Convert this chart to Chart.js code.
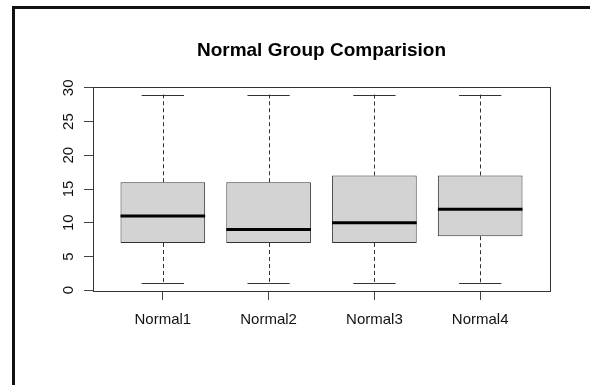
<!DOCTYPE html>
<html>
<head>
<meta charset="utf-8">
<script src="https://cdn.jsdelivr.net/npm/chart.js@4"></script>
<style>
  html, body { margin: 0; padding: 0; background: #fff; }
  #wrap { width: 590px; height: 385px; position: relative; }
</style>
</head>
<body>
<div id="wrap"><canvas id="c" width="590" height="385"></canvas></div>
<script>
// Five-number summaries for each group
const categories = ['Normal1', 'Normal2', 'Normal3', 'Normal4'];
const mins    = [1, 1, 1, 1];
const q1s     = [7, 7, 7, 8];
const medians = [11, 9, 10, 12];
const q3s     = [16, 16, 17, 17];
const maxs    = [29, 29, 29, 29];
const yTicks  = [0, 5, 10, 15, 20, 25, 30];
const chartTitle = 'Normal Group Comparision';

const FONT = '"Liberation Sans", Arial, Helvetica, sans-serif';

// Outer frame, plot box, whiskers, medians and rotated y labels
const boxPlotPlugin = {
  id: 'boxPlotParts',
  beforeDraw(chart) {
    const ctx = chart.ctx;
    ctx.save();
    ctx.fillStyle = '#111';
    ctx.fillRect(12, 6, 578, 3);
    ctx.fillRect(12, 6, 3, 379);
    ctx.restore();
  },
  afterDatasetsDraw(chart) {
    const ctx = chart.ctx;
    const xs = chart.scales.x, ys = chart.scales.y;
    const bars = chart.getDatasetMeta(0).data;
    ctx.save();
    categories.forEach((c, i) => {
      const xc = xs.getPixelForValue(i + 1);
      const w = bars[i].width;
      const yMin = ys.getPixelForValue(mins[i]);
      const yQ1 = ys.getPixelForValue(q1s[i]);
      const yMed = ys.getPixelForValue(medians[i]);
      const yQ3 = ys.getPixelForValue(q3s[i]);
      const yMax = ys.getPixelForValue(maxs[i]);
      const xr = Math.round(xc) + 0.5;
      // dashed whiskers
      ctx.strokeStyle = '#333';
      ctx.lineWidth = 1;
      ctx.setLineDash([4, 3]);
      ctx.beginPath();
      ctx.moveTo(xr, yQ3); ctx.lineTo(xr, yMax);
      ctx.moveTo(xr, yQ1); ctx.lineTo(xr, yMin);
      ctx.stroke();
      ctx.setLineDash([]);
      // staples
      ctx.beginPath();
      ctx.moveTo(xc - w / 4, Math.round(yMax) + 0.5); ctx.lineTo(xc + w / 4, Math.round(yMax) + 0.5);
      ctx.moveTo(xc - w / 4, Math.round(yMin) + 0.5); ctx.lineTo(xc + w / 4, Math.round(yMin) + 0.5);
      ctx.stroke();
      // median
      ctx.strokeStyle = '#000';
      ctx.lineWidth = 3;
      ctx.beginPath();
      ctx.moveTo(xc - w / 2, yMed); ctx.lineTo(xc + w / 2, yMed);
      ctx.stroke();
    });
    // plot box
    const a = chart.chartArea;
    ctx.strokeStyle = '#333';
    ctx.lineWidth = 1;
    ctx.strokeRect(Math.round(a.left) + 0.5, Math.round(a.top) + 0.5,
                   Math.round(a.right - a.left), Math.round(a.bottom - a.top));
    // y tick labels, rotated like the axis
    ctx.fillStyle = '#111';
    ctx.font = '15px ' + FONT;
    ctx.textAlign = 'center';
    ctx.textBaseline = 'alphabetic';
    yTicks.forEach(v => {
      ctx.save();
      ctx.translate(72.5, ys.getPixelForValue(v));
      ctx.rotate(-Math.PI / 2);
      ctx.fillText(String(v), 0, 0);
      ctx.restore();
    });
    ctx.restore();
  }
};

new Chart(document.getElementById('c'), {
  type: 'bar',
  data: {
    datasets: [{
      data: categories.map((c, i) => ({ x: i + 1, y: [q1s[i], q3s[i]] })),
      backgroundColor: '#d3d3d3',
      borderColor: '#333',
      borderWidth: 1,
      borderSkipped: false,
      barPercentage: 0.8,
      categoryPercentage: 1
    }]
  },
  options: {
    responsive: false,
    animation: false,
    layout: { padding: { left: 0, right: 40, top: 0, bottom: 0 } },
    plugins: {
      legend: { display: false },
      tooltip: { enabled: false },
      title: {
        display: true,
        fullSize: false,
        text: chartTitle,
        color: '#000',
        font: { family: FONT, size: 19, weight: 'bold', lineHeight: 1.2 },
        padding: { top: 39, bottom: 25.2 }
      }
    },
    scales: {
      x: {
        type: 'linear',
        min: 0.34,
        max: 4.66,
        offset: false,
        afterBuildTicks(scale) { scale.ticks = categories.map((c, i) => ({ value: i + 1 })); },
        afterFit(scale) { scale.height = 94; },
        ticks: {
          autoSkip: false,
          maxRotation: 0,
          minRotation: 0,
          padding: 11,
          color: '#111',
          font: { family: FONT, size: 15 },
          callback: v => categories[v - 1]
        },
        grid: { offset: false, drawOnChartArea: false, drawTicks: true, tickLength: 9, color: '#444' },
        border: { display: false }
      },
      y: {
        type: 'linear',
        min: -0.12,
        max: 30.12,
        afterBuildTicks(scale) { scale.ticks = yTicks.map(v => ({ value: v })); },
        afterFit(scale) { scale.width = 93; },
        ticks: { display: false },
        grid: { drawOnChartArea: false, drawTicks: true, tickLength: 9, color: '#444' },
        border: { display: false }
      }
    }
  },
  plugins: [boxPlotPlugin]
});
</script>
</body>
</html>
